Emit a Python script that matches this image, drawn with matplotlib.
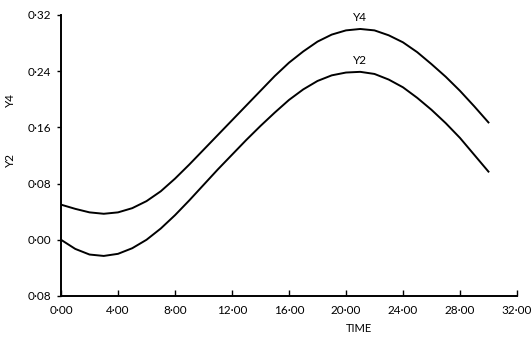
import matplotlib
matplotlib.use("Agg")
import matplotlib.pyplot as plt


# values
time = list(range(0, 31))

y4 = [0.050, 0.044, 0.039, 0.037, 0.039, 0.045, 0.055, 0.069, 0.087, 0.107,
      0.128, 0.149, 0.170, 0.191, 0.212, 0.233, 0.252, 0.268, 0.282, 0.292,
      0.298, 0.300, 0.298, 0.291, 0.281, 0.267, 0.250, 0.232, 0.212, 0.190,
      0.167]

y2 = [0.000, -0.013, -0.021, -0.023, -0.020, -0.012, 0.000, 0.016, 0.035, 0.056,
      0.078, 0.100, 0.121, 0.142, 0.162, 0.181, 0.199, 0.214, 0.226, 0.234,
      0.238, 0.239, 0.236, 0.228, 0.217, 0.202, 0.185, 0.166, 0.145, 0.121,
      0.097]

x_ticks = [0, 4, 8, 12, 16, 20, 24, 28, 32]
x_labels = ["0·00", "4·00", "8·00", "12·00", "16·00", "20·00", "24·00", "28·00", "32·00"]
y_ticks = [-0.08, 0.00, 0.08, 0.16, 0.24, 0.32]
y_labels = ["0·08", "0·00", "0·08", "0·16", "0·24", "0·32"]


plt.rcParams['font.family'] = ['Lato', 'DejaVu Sans']

fig = plt.figure(figsize=(5.32, 3.47), dpi=100)
ax = fig.add_axes([0.1147, 0.147, 0.857, 0.81])

ax.plot(time, y4, color='black', linewidth=1.4)
ax.plot(time, y2, color='black', linewidth=1.4)

# curve labels just above each peak
for series, name in [(y4, "Y4"), (y2, "Y2")]:
    i = series.index(max(series))
    ax.annotate(name, (time[i], series[i]), xytext=(0, 8.5), textcoords='offset points',
                ha='center', va='center', fontsize=8.5)

ax.set_xlim(0, 32)
ax.set_ylim(-0.08, 0.32)
ax.set_xticks(x_ticks)
ax.set_xticklabels(x_labels)
ax.set_yticks(y_ticks)
ax.set_yticklabels(y_labels)

ax.spines['top'].set_visible(False)
ax.spines['right'].set_visible(False)
ax.spines['left'].set_linewidth(1.4)
ax.spines['bottom'].set_linewidth(1.4)

ax.tick_params(axis='x', direction='in', length=4, width=1, labelsize=8.5, pad=6.5)
ax.tick_params(axis='y', direction='out', length=3, width=1, labelsize=8.5, pad=4)

ax.text(-0.112, 0.697, "Y4", transform=ax.transAxes, rotation=90,
        ha='center', va='center', fontsize=8.5)
ax.text(-0.112, 0.484, "Y2", transform=ax.transAxes, rotation=90,
        ha='center', va='center', fontsize=8.5)
ax.text(0.653, -0.114, "TIME", transform=ax.transAxes,
        ha='center', va='center', fontsize=8)

plt.savefig("out.png", dpi=100)
